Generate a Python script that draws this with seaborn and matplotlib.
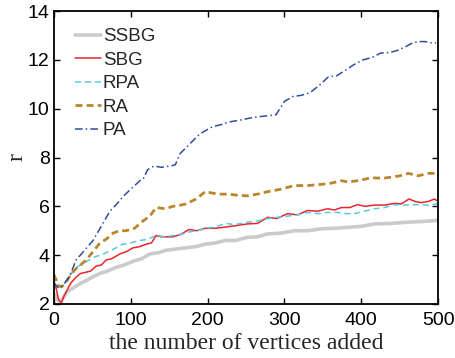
import matplotlib
matplotlib.use("Agg")
import matplotlib.pyplot as plt
import seaborn as sns

# SSBG
ssbg_x = [1, 3, 5, 8, 12, 16, 20, 25, 30, 35, 42, 50, 60, 70, 81, 92, 103, 114, 125, 136,
          146, 159, 172, 185, 197, 210, 223, 236, 252, 265, 278, 295, 313, 330, 348, 365,
          382, 400, 417, 438, 460, 480, 499]
ssbg_y = [2.4, 2.3, 2.15, 2.1, 2.25, 2.45, 2.55, 2.65, 2.75, 2.85, 2.95, 3.1, 3.25, 3.35,
          3.5, 3.6, 3.75, 3.85, 4.05, 4.1, 4.2, 4.25, 4.3, 4.35, 4.45, 4.5, 4.6, 4.6, 4.73,
          4.75, 4.87, 4.9, 5.0, 5.0, 5.08, 5.1, 5.14, 5.18, 5.28, 5.3, 5.35, 5.38, 5.42]

# SBG
sbg_x = [0, 2, 4, 6, 8, 10, 13, 17, 22, 29, 35, 42, 48, 55, 62, 68, 75, 86, 95, 103, 112,
         120, 127, 133, 140, 148, 155, 165, 176, 186, 197, 210, 223, 235, 252, 265, 278,
         290, 304, 317, 330, 343, 356, 365, 374, 385, 395, 405, 417, 430, 443, 452, 462,
         470, 478, 487, 495, 500]
sbg_y = [2.8, 2.75, 2.5, 2.2, 2.1, 2.05, 2.3, 2.55, 2.85, 3.1, 3.25, 3.3, 3.35, 3.55, 3.6,
         3.8, 3.85, 4.05, 4.15, 4.3, 4.35, 4.45, 4.5, 4.8, 4.75, 4.75, 4.75, 4.85, 5.05, 5.0,
         5.1, 5.1, 5.15, 5.2, 5.28, 5.3, 5.55, 5.5, 5.7, 5.65, 5.83, 5.8, 5.9, 5.85, 5.95,
         5.95, 6.07, 6.0, 6.05, 6.05, 6.12, 6.1, 6.3, 6.2, 6.15, 6.2, 6.3, 6.2]

# RPA
rpa_x = [0, 3, 6, 9, 13, 18, 25, 32, 40, 46, 55, 62, 68, 78, 90, 100, 112, 122, 133, 145,
         155, 165, 176, 186, 197, 210, 223, 235, 252, 265, 278, 291, 304, 317, 330, 343,
         356, 370, 380, 391, 404, 417, 430, 443, 456, 469, 485, 499]
rpa_y = [3.2, 2.9, 2.75, 2.7, 2.8, 3.0, 3.35, 3.55, 3.7, 3.8, 3.95, 4.0, 4.1, 4.25, 4.45,
         4.5, 4.6, 4.65, 4.8, 4.75, 4.8, 4.85, 4.95, 5.0, 5.1, 5.15, 5.3, 5.25, 5.35, 5.4,
         5.5, 5.55, 5.6, 5.65, 5.75, 5.7, 5.75, 5.75, 5.7, 5.7, 5.8, 5.9, 5.95, 6.07, 6.05,
         6.07, 6.05, 6.1]

# RA
ra_x = [0, 3, 6, 10, 14, 17, 22, 29, 35, 42, 50, 60, 68, 77, 85, 94, 105, 116, 125, 133,
        145, 155, 165, 172, 185, 197, 205, 214, 227, 240, 252, 265, 278, 295, 313, 330, 348,
        361, 374, 383, 395, 413, 428, 440, 450, 461, 474, 487, 497]
ra_y = [3.2, 3.0, 2.75, 2.7, 2.8, 2.95, 3.2, 3.45, 3.6, 3.8, 4.1, 4.5, 4.65, 4.9, 5.0, 5.0,
        5.1, 5.4, 5.6, 5.95, 5.9, 6.0, 6.05, 6.1, 6.3, 6.6, 6.55, 6.5, 6.5, 6.45, 6.43, 6.5,
        6.6, 6.7, 6.85, 6.85, 6.9, 6.95, 7.05, 7.0, 7.05, 7.17, 7.15, 7.2, 7.25, 7.35, 7.25,
        7.35, 7.35]

# PA
pa_x = [0, 3, 6, 9, 14, 20, 29, 40, 51, 62, 73, 82, 90, 100, 112, 116, 122, 130, 140, 151,
        158, 164, 175, 190, 200, 207, 218, 227, 245, 260, 275, 289, 300, 311, 322, 333, 345,
        357, 368, 379, 390, 402, 414, 425, 437, 448, 458, 467, 475, 483, 491, 497]
pa_y = [2.9, 2.75, 2.65, 2.7, 2.85, 3.1, 3.8, 4.2, 4.6, 5.2, 5.8, 6.1, 6.4, 6.7, 7.05, 7.1,
        7.5, 7.65, 7.6, 7.65, 7.7, 8.15, 8.5, 8.97, 9.15, 9.27, 9.35, 9.45, 9.55, 9.65, 9.7,
        9.75, 10.3, 10.5, 10.55, 10.65, 10.95, 11.3, 11.35, 11.57, 11.8, 12.0, 12.1, 12.28,
        12.3, 12.4, 12.55, 12.7, 12.75, 12.75, 12.7, 12.7]

sns.set_style("ticks")
plt.rcParams["font.family"] = ["Liberation Sans", "DejaVu Sans"]

fig = plt.figure(figsize=(4.56, 3.58), dpi=100)
ax = fig.add_axes([0.118, 0.151, 0.843, 0.818])

sns.lineplot(x=ssbg_x, y=ssbg_y, ax=ax, color="#cbcbcb", linewidth=2.6, label="SSBG")
sns.lineplot(x=sbg_x, y=sbg_y, ax=ax, color="#e8262b", linewidth=1.1, label="SBG")
sns.lineplot(x=rpa_x, y=rpa_y, ax=ax, color="#5ac8e0", linewidth=1.1,
             linestyle=(0, (4, 2.5)), label="RPA")
sns.lineplot(x=ra_x, y=ra_y, ax=ax, color="#b8862b", linewidth=2.0,
             linestyle=(0, (2.5, 1.5)), label="RA")
sns.lineplot(x=pa_x, y=pa_y, ax=ax, color="#2f4ea0", linewidth=1.1,
             linestyle=(0, (5, 2, 1, 2)), label="PA")

ax.set_xlim(0, 500)
ax.set_ylim(2, 14)
ax.set_xticks([0, 100, 200, 300, 400, 500])
ax.set_yticks([2, 4, 6, 8, 10, 12, 14])
ax.tick_params(direction="in", length=4, width=1, labelsize=14, top=True, right=True,
               colors="black")
ax.tick_params(axis="x", pad=6)
ax.tick_params(axis="y", pad=3)
for s in ax.spines.values():
    s.set_linewidth(1.3)
    s.set_color("black")

ax.set_xlabel("the number of vertices added", fontsize=17, family="Liberation Serif",
              labelpad=3)
ax.set_ylabel("r", fontsize=17, family="Liberation Serif", labelpad=0)

ax.legend(loc="upper left", frameon=False, fontsize=13.5, handlelength=1.4,
          handletextpad=0.1, labelspacing=0.34, borderaxespad=0.5,
          bbox_to_anchor=(0.01, 1.0))

fig.savefig("out.png", dpi=100)
